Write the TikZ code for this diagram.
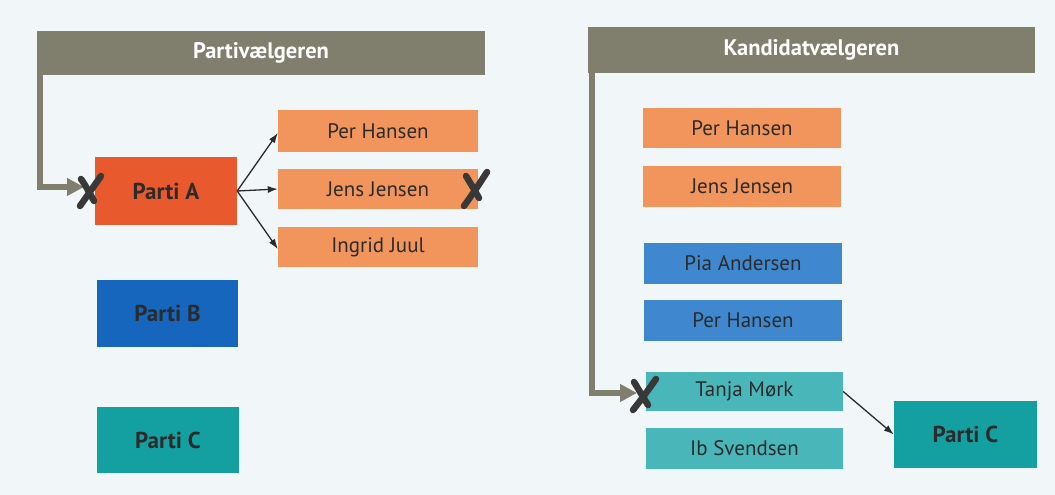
\documentclass[tikz,border=0pt]{standalone}
\usepackage{fontspec}
\setmainfont{PT Sans}
\usetikzlibrary{arrows.meta}
\definecolor{bg}{HTML}{F1F6F9}
\definecolor{olive}{HTML}{807E6C}
\definecolor{partiAcol}{HTML}{E85A2E}
\definecolor{orangeL}{HTML}{F2955C}
\definecolor{partiBcol}{HTML}{1766BE}
\definecolor{blueL}{HTML}{3F88CF}
\definecolor{partiCcol}{HTML}{14A0A1}
\definecolor{tealL}{HTML}{49B7BA}
\definecolor{txt}{HTML}{2B2B2B}
\definecolor{xcol}{HTML}{383838}
\tikzset{
  box/.style={rectangle, inner sep=0pt, text=txt, font=\fontsize{21}{24}\selectfont},
  partibox/.style={rectangle, inner sep=0pt, text=txt, font=\bfseries\fontsize{23}{26}\selectfont},
  hdr/.style={rectangle, inner sep=0pt, fill=olive, text=white, font=\bfseries\fontsize{22.5}{26}\selectfont},
  feed/.style={draw=olive, line width=6pt, -{Triangle[length=17pt,width=17pt]}},
  thin/.style={draw=txt, line width=1.3pt, -{Latex[length=10pt,width=7pt]}},
  xmark/.style={draw=xcol, line width=6.5pt, line cap=round},
}
\begin{document}
\begin{tikzpicture}[x=1pt,y=-1pt]
\useasboundingbox (0,0) rectangle (1055,495);
\fill[bg] (0,0) rectangle (1055,495);
% left panel
\node[hdr, minimum width=448pt, minimum height=44pt] (hdrL) at (261,53) {Partivælgeren};
\node[partibox, fill=partiAcol, minimum width=142pt, minimum height=68pt] (partiA) at (166,191) {Parti A};
\node[box, fill=orangeL, minimum width=200pt, minimum height=42pt] (per1) at (378,131) {Per Hansen};
\node[box, fill=orangeL, minimum width=200pt, minimum height=40pt] (jens1) at (378,189) {Jens Jensen};
\node[box, fill=orangeL, minimum width=200pt, minimum height=40pt] (ingrid) at (378,247) {Ingrid Juul};
\node[partibox, fill=partiBcol, minimum width=141pt, minimum height=67pt] (partiB) at (167.5,313.5) {Parti B};
\node[partibox, fill=partiCcol, minimum width=142pt, minimum height=66pt] (partiC1) at (168,440) {Parti C};
% right panel
\node[hdr, minimum width=447pt, minimum height=46pt] (hdrR) at (811.5,50) {Kandidatvælgeren};
\node[box, fill=orangeL, minimum width=198pt, minimum height=40pt] (per2) at (742,128) {Per Hansen};
\node[box, fill=orangeL, minimum width=198pt, minimum height=41pt] (jens2) at (742,186.5) {Jens Jensen};
\node[box, fill=blueL, minimum width=198pt, minimum height=41pt] (pia) at (743,263.5) {Pia Andersen};
\node[box, fill=blueL, minimum width=198pt, minimum height=41pt] (per3) at (743,320.5) {Per Hansen};
\node[box, fill=tealL, minimum width=197pt, minimum height=39pt] (tanja) at (744.5,391.5) {Tanja Mørk};
\node[box, fill=tealL, minimum width=197pt, minimum height=41pt] (ib) at (744.5,448.5) {Ib Svendsen};
\node[partibox, fill=partiCcol, minimum width=143pt, minimum height=67pt] (partiC2) at (965.5,434.5) {Parti C};
% olive connectors
\coordinate (feedL) at (84,187);
\coordinate (feedR) at (637,393);
\draw[feed] ([xshift=3pt,yshift=1pt]hdrL.south west) |- (feedL);
\draw[feed] ([xshift=4pt,yshift=1pt]hdrR.south west) |- (feedR);
% thin arrows
\draw[thin] (partiA.east) -- ([yshift=-2pt]per1.west);
\draw[thin] (partiA.east) -- (jens1.west);
\draw[thin] (partiA.east) -- ([yshift=-2pt]ingrid.west);
\draw[thin] (tanja.east) -- (partiC2.west);
% X marks
\draw[xmark] (101,176) .. controls (94,186) and (87,196) .. (80,206);
\draw[xmark] (81,179) .. controls (86,186) and (90,194) .. (94,201);
\draw[xmark] (487,172) .. controls (480,183) and (472,195) .. (464,206);
\draw[xmark] (466,176) .. controls (471,184) and (475,191) .. (479,198);
\draw[xmark] (656,379) .. controls (649,389) and (641,400) .. (633,410);
\draw[xmark] (634,382) .. controls (639,390) and (643,397) .. (648,405);
\end{tikzpicture}
\end{document}
